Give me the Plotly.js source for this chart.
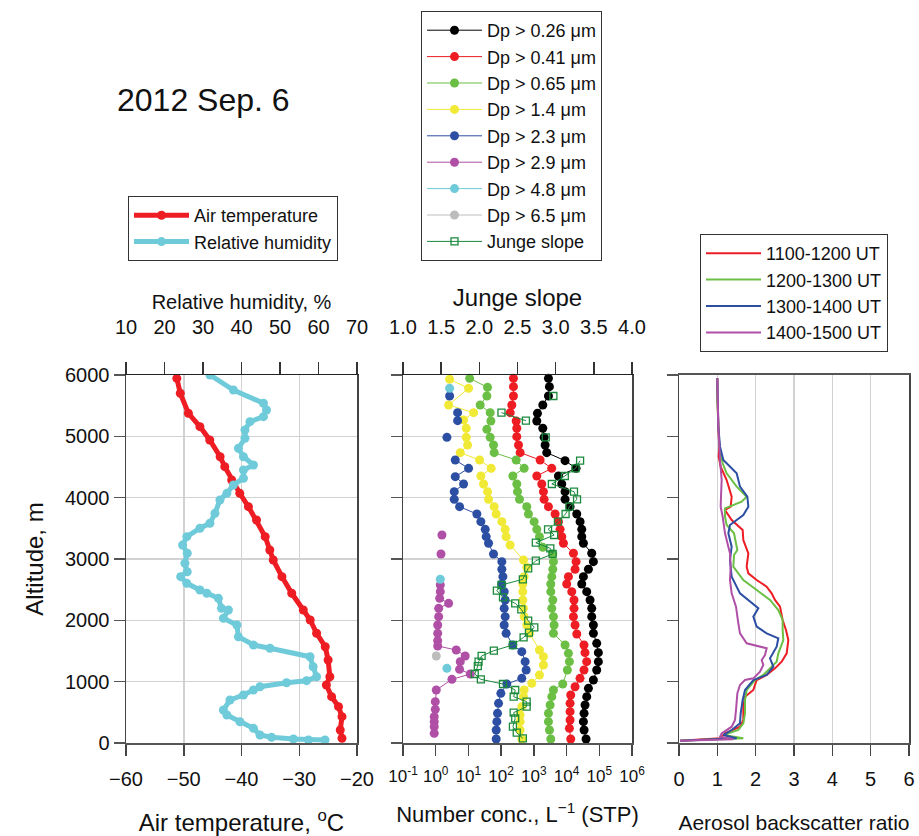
<!DOCTYPE html>
<html>
<head>
<meta charset="utf-8">
<script src="https://cdn.plot.ly/plotly-3.0.1.min.js"></script>
<style>html,body{margin:0;padding:0;background:#fff;}#chart{width:919px;height:836px;}</style>
</head>
<body>
<div id="chart"></div>
<script>
// ---------- Left panel: air temperature and relative humidity ----------
const altTemp = [5946,5702,5376,5158,4940,4668,4505,4288,4071,3853,3636,3364,3147,2984,2712,2441,2169,2005,1789,1570,1353,1081,946,755,592,429,212,77];
const airTemp = [-51.2,-50.6,-49.2,-47.2,-45.5,-43.7,-42.9,-41.7,-40.3,-38.8,-37.4,-35.9,-35.1,-34.5,-33.0,-31.3,-29.3,-28.1,-27.0,-25.5,-25.0,-24.7,-25.3,-24.4,-23.2,-22.6,-22.9,-22.6];
const altRH = [6000,5755,5539,5430,5321,5239,5103,4968,4805,4668,4533,4451,4316,4207,4071,3962,3745,3582,3501,3364,3228,3093,2930,2793,2712,2603,2495,2441,2359,2196,2169,2033,1924,1733,1598,1544,1407,1244,1081,1016,983,918,864,783,701,538,457,347,239,130,93,65,49,49];
const relHum = [31.8,37.9,45.7,46.5,45.7,42.2,40.9,40.9,39.2,40.5,43.1,40.5,40.5,37.9,36.2,34.4,33.1,31.8,29.2,25.8,24.7,25.9,25.3,25.9,24.2,25.8,29.2,31.0,34.0,34.8,36.6,35.3,38.8,39.2,43.1,47.4,57.8,58.6,59.5,56.9,51.7,44.8,43.1,40.5,37.0,35.3,36.2,39.6,43.1,44.8,47.8,53.5,57.4,61.7];

// ---------- Middle panel: number concentrations (L^-1, STP) ----------
const alt026 = [5946,5810,5658,5511,5375,5250,5131,4984,4859,4734,4603,4478,4353,4223,4098,3973,3853,3734,3609,3484,3364,3256,3093,2957,2832,2712,2592,2467,2332,2196,2060,1924,1788,1625,1473,1326,1190,1027,891,755,620,484,348,212,65];
const conc026 = [2790,2990,2790,1875,1290,1230,1875,2060,2210,2480,9000,19500,5640,7130,9000,9000,12800,20500,25900,29100,29100,32700,58700,66100,46500,32700,29100,41300,52200,58700,58700,66100,66100,83400,93700,93700,83400,66100,46500,41300,36700,34300,32700,34300,39400];
const alt041 = [5946,5810,5658,5511,5386,5250,5131,4995,4859,4734,4614,4478,4353,4223,4098,3973,3853,3734,3609,3484,3364,3256,3093,2957,2832,2712,2592,2467,2332,2196,2060,1924,1777,1598,1473,1326,1190,1054,918,783,647,511,375,239,65];
const conc041 = [238,238,238,212,189,288,301,301,339,381,1553,3520,1230,1747,1963,2058,2790,4460,5640,6340,7130,8010,16200,19500,18200,11400,10100,14400,16900,16900,16200,18200,20500,34100,36600,41200,34100,25800,18200,13400,12800,12800,12800,12200,13400];
const alt065 = [5946,5799,5658,5511,5386,5250,5114,4984,4859,4734,4614,4478,4353,4223,4098,3973,3853,3734,3609,3484,3364,3190,3082,2957,2832,2712,2592,2467,2332,2196,2060,1924,1788,1598,1462,1326,1190,962,864,755,620,484,348,212,65];
const conc065 = [10.9,38.4,36.6,22.9,46.3,48.5,36.6,46.3,58.5,61.3,288,505,228,301,316,364,608,684,1019,1230,1483,1875,3790,3970,3790,3530,3290,3290,3790,3530,3970,4160,3970,9010,11400,12200,10600,7640,3970,3530,3140,2790,2790,3000,3290];
const alt14 = [5930,5783,5511,5386,5266,5131,4984,4859,4734,4614,4478,4353,4223,4098,3973,3853,3734,3609,3484,3364,3228,2984,2864,2712,2592,2467,2332,2196,2060,1924,1788,1516,1408,1272,1109,973,864,755,592,457,348,212,65];
const conc14 = [2.66,10.1,2.48,14.4,7.11,8.57,8.57,9.42,5.62,21.9,49.6,24.0,29.0,38.4,41.2,61.3,70.5,105,133,142,188,481,608,504,459,459,459,481,504,608,735,1483,1963,1963,1483,865,504,481,428,381,381,381,428];
const alt23 = [5658,null,5386,5256,null,4984,null,4614,4478,4343,4223,4098,3973,3853,3734,3609,3484,3364,3256,3082,2957,2832,2712,2592,2467,2332,2196,2060,1924,1788,1598,1489,1326,1190,1054,962,810,647,484,348,212,65];
const conc23 = [2.66,null,4.67,4.67,null,2.20,null,3.96,10.1,3.96,7.11,3.69,3.69,5.37,18.1,24.0,32.6,34.9,41.2,58.5,105,105,113,105,124,133,124,133,124,142,228,428,541,581,428,149,98,83.2,77.5,74.0,70.6,70.6];
const alt29 = [3391,null,3082,null,2576,2467,2359,2277,2196,2060,1924,1788,1669,1582,1516,1419,1326,1201,1125,1038,864,674,549,429,348,266,158];
const conc29 = [1.55,null,1.45,null,1.38,1.38,1.32,2.48,1.23,1.23,1.15,1.15,1.15,1.15,4.24,7.98,5.62,5.36,11.4,3.13,1.04,0.97,0.97,0.90,0.90,0.90,0.90];
const alt48 = [5783,null,2669,null,1217];
const conc48 = [2.66,null,1.38,null,2.20];
const alt65 = [1419];
const conc65 = [1.04];
const altJunge = [5658,null,5386,5256,null,4984,null,4603,4478,4353,4223,4098,3973,3853,3734,3609,3484,3391,3266,3174,3082,2973,2848,2669,2576,2484,2375,2277,2179,1995,1886,1799,1723,1598,1505,1419,1326,1255,1125,1038,962,864,755,674,592,495,402,266,168,76];
const jungeSlope = [2.97,null,2.29,2.61,null,2.87,null,3.32,3.26,3.12,2.95,3.24,3.28,3.18,3.13,3.03,2.90,2.98,2.74,2.93,2.96,2.74,2.64,2.57,2.29,2.23,2.31,2.47,2.55,2.64,2.72,2.65,2.58,2.44,2.19,2.03,1.99,1.98,1.94,2.02,2.31,2.47,2.45,2.62,2.62,2.45,2.47,2.44,2.49,2.57];
const concTickVals = [0.1,1,10,100,1000,10000,100000,1000000];
const concTickText = ['10<sup>-1</sup>','10<sup>0</sup>','10<sup>1</sup>','10<sup>2</sup>','10<sup>3</sup>','10<sup>4</sup>','10<sup>5</sup>','10<sup>6</sup>'];

// ---------- Right panel: aerosol backscatter ratio ----------
const altBs1 = [5946,5701,5158,4832,4669,4506,4288,4125,4016,3853,3799,3636,3527,3473,3310,3147,3093,2875,2766,2658,2549,2440,2332,2223,2006,1842,1679,1462,1326,1217,1109,1027,864,755,592,375,266,158,76,38];
const bs1 = [1.00,1.00,1.026,1.052,1.035,1.087,1.243,1.313,1.374,1.348,1.200,1.374,1.548,1.661,1.678,1.783,1.809,1.765,1.809,2.026,2.287,2.417,2.504,2.635,2.704,2.791,2.852,2.809,2.678,2.504,2.287,2.026,1.939,1.722,1.678,1.678,1.591,1.200,1.070,0.026];
const altBs2 = [5946,5593,4832,4560,4397,4179,4016,3935,3826,3690,3554,3419,3147,3065,2875,2658,2495,2332,2168,2006,1842,1679,1462,1326,1245,1109,1027,864,701,484,321,212,130,76,38];
const bs2 = [1.00,1.00,1.052,1.139,1.243,1.504,1.765,1.635,1.200,1.200,1.243,1.435,1.522,1.435,1.417,1.678,2.026,2.374,2.591,2.704,2.704,2.722,2.591,2.548,2.417,2.200,1.983,1.765,1.722,1.722,1.678,1.548,1.157,1.678,0.026];
const altBs3 = [5946,5158,4832,4614,4397,4179,4016,3853,3717,3554,3419,3201,2984,2712,2440,2332,2250,2196,2060,1897,1788,1707,1571,1462,1380,1245,1109,1027,864,701,484,321,212,130,76,38];
const bs3 = [1.00,1.026,1.070,1.157,1.504,1.591,1.783,1.809,1.678,1.330,1.287,1.374,1.330,1.374,1.591,1.809,1.983,2.070,1.939,2.026,2.287,2.591,2.548,2.461,2.374,2.461,2.287,1.939,1.722,1.661,1.609,1.591,1.374,1.157,1.504,0.026];
const altBs4 = [5946,5158,4614,4288,4016,3853,3690,3419,3201,3093,2875,2658,2440,2223,1951,1788,1625,1544,1435,1353,1272,1163,1054,1027,946,810,538,375,266,158,103,60,38];
const bs4 = [1.00,1.026,1.070,1.113,1.096,1.087,1.139,1.200,1.287,1.330,1.348,1.330,1.374,1.487,1.548,1.591,1.765,2.287,2.243,2.157,2.200,2.113,1.939,1.722,1.591,1.522,1.487,1.461,1.374,1.113,1.070,1.417,0.026];

// ---------- Colours ----------
const cRed = '#ee1d23', cCyan = '#6fcbd9', cBlack = '#000000', cGreen = '#6bbf45',
      cYellow = '#f0e936', cBlue = '#2c4fa3', cMag = '#b04fa6', cGray = '#bdbdbd', cJunge = '#1b8a3c';

const FONT = 'Liberation Sans, Arial, Helvetica, sans-serif';

function dots(name, x, y, color, xa, ya, legend) {
  return {type:'scatter', mode:'lines+markers', name:name, x:x, y:y, xaxis:xa, yaxis:ya,
    legend:legend, line:{color:color, width:1}, marker:{color:color, size:9}, connectgaps:false, cliponaxis:false};
}

const traces = [
  {type:'scatter', mode:'lines+markers', name:'Air temperature', x:airTemp, y:altTemp, xaxis:'x', yaxis:'y', legend:'legend',
    line:{color:cRed, width:5}, marker:{color:cRed, size:9}},
  {type:'scatter', mode:'lines+markers', name:'Relative humidity', x:relHum, y:altRH, xaxis:'x2', yaxis:'y', legend:'legend',
    line:{color:cCyan, width:5}, marker:{color:cCyan, size:9}},

  dots('Dp > 0.26 μm', conc026, alt026, cBlack, 'x3', 'y2', 'legend2'),
  dots('Dp > 0.41 μm', conc041, alt041, cRed, 'x3', 'y2', 'legend2'),
  dots('Dp > 0.65 μm', conc065, alt065, cGreen, 'x3', 'y2', 'legend2'),
  dots('Dp > 1.4 μm', conc14, alt14, cYellow, 'x3', 'y2', 'legend2'),
  dots('Dp > 2.3 μm', conc23, alt23, cBlue, 'x3', 'y2', 'legend2'),
  dots('Dp > 2.9 μm', conc29, alt29, cMag, 'x3', 'y2', 'legend2'),
  dots('Dp > 4.8 μm', conc48, alt48, cCyan, 'x3', 'y2', 'legend2'),
  dots('Dp > 6.5 μm', conc65, alt65, cGray, 'x3', 'y2', 'legend2'),
  {type:'scatter', mode:'lines+markers', name:'Junge slope', x:jungeSlope, y:altJunge, xaxis:'x4', yaxis:'y2', legend:'legend2',
    line:{color:cJunge, width:1}, marker:{symbol:'square-open', color:cJunge, size:7, line:{width:1.3, color:cJunge}}, connectgaps:false},

  {type:'scatter', mode:'lines', name:'1100-1200 UT', x:bs1, y:altBs1, xaxis:'x5', yaxis:'y3', legend:'legend3', line:{color:cRed, width:2}},
  {type:'scatter', mode:'lines', name:'1200-1300 UT', x:bs2, y:altBs2, xaxis:'x5', yaxis:'y3', legend:'legend3', line:{color:cGreen, width:2}},
  {type:'scatter', mode:'lines', name:'1300-1400 UT', x:bs3, y:altBs3, xaxis:'x5', yaxis:'y3', legend:'legend3', line:{color:cBlue, width:2}},
  {type:'scatter', mode:'lines', name:'1400-1500 UT', x:bs4, y:altBs4, xaxis:'x5', yaxis:'y3', legend:'legend3', line:{color:cMag, width:2}}
];

const W = 919, H = 836;
const yDom = [(H-743)/H, (H-375)/H];
const dLeft = [126/W, 357/W], dMid = [403/W, 632/W], dRight = [679/W, 909/W];
const tickFont = {family:FONT, size:20, color:'#111'};

const baseX = {showgrid:false, zeroline:false, ticks:'outside', ticklen:11, tickwidth:1.5, tickcolor:'#444', tickangle:0,
  showline:true, linecolor:'#555', linewidth:2, tickfont:tickFont, ticklabelstandoff:6};
const baseTop = {side:'top', showgrid:false, zeroline:false, ticks:'outside', ticklen:12, tickwidth:1.5, tickcolor:'#333', tickangle:0,
  showline:true, linecolor:'#222', linewidth:1.2, tickfont:tickFont, ticklabelstandoff:20};
const baseY = {domain:yDom, range:[0,6000], dtick:1000, zeroline:false, ticks:'outside', ticklen:11, tickwidth:1.5,
  tickcolor:'#555', showline:true, mirror:true, linecolor:'#444', linewidth:1.5, tickfont:tickFont};

const layout = {
  width:W, height:H, margin:{l:0, r:0, t:0, b:0},
  paper_bgcolor:'#fff', plot_bgcolor:'rgba(0,0,0,0)',
  font:{family:FONT, color:'#111'},
  title:{text:'2012 Sep. 6', x:117/W, xanchor:'left', y:1-100/H, yanchor:'middle', yref:'container', xref:'container',
    font:{family:FONT, size:32, color:'#111'}},
  showlegend:true,
  xaxis: Object.assign({}, baseX, {domain:dLeft, anchor:'y', range:[-60,-20], dtick:10,
    showgrid:true, gridcolor:'#d2d2d2', gridwidth:1.5,
    title:{text:'Air temperature, <sup>o</sup>C', font:{family:FONT, size:24, color:'#111'}, standoff:26}}),
  xaxis2: Object.assign({}, baseTop, {overlaying:'x', anchor:'y', range:[10,70], dtick:10,
    title:{text:'Relative humidity, %', font:{family:FONT, size:20, color:'#111'}, standoff:0}}),
  yaxis: Object.assign({}, baseY, {anchor:'x', showgrid:true, gridcolor:'#d2d2d2', gridwidth:1.5,
    title:{text:'Altitude, m', font:{family:FONT, size:24, color:'#111'}, standoff:14}}),

  xaxis3: Object.assign({}, baseX, {domain:dMid, anchor:'y2', type:'log', range:[-1,6],
    tickmode:'array', tickvals:concTickVals, ticktext:concTickText, tickfont:{family:FONT, size:17, color:'#111'},
    title:{text:'Number conc., L<sup>−1</sup> (STP)', font:{family:FONT, size:22, color:'#111'}, standoff:21}}),
  xaxis4: Object.assign({}, baseTop, {overlaying:'x3', anchor:'y2', range:[1,4], dtick:0.5, tickformat:'.1f',
    title:{text:'Junge slope', font:{family:FONT, size:24, color:'#111'}, standoff:2}}),
  yaxis2: Object.assign({}, baseY, {anchor:'x3', showticklabels:false, showgrid:true, gridcolor:'#d2d2d2', gridwidth:1.5}),

  xaxis5: Object.assign({}, baseX, {domain:dRight, anchor:'y3', range:[0,6], dtick:1, mirror:true,
    showgrid:true, gridcolor:'#d2d2d2', gridwidth:1.5,
    title:{text:'Aerosol backscatter ratio', font:{family:FONT, size:21, color:'#111'}, standoff:26}}),
  yaxis3: Object.assign({}, baseY, {anchor:'x5', showticklabels:false, showgrid:false}),

  legend:{x:128/W, y:1-196/H, xanchor:'left', yanchor:'top', bordercolor:'#333', borderwidth:1,
    bgcolor:'#fff', font:{family:FONT, size:18, color:'#111'}, itemwidth:55},
  legend2:{x:421/W, y:1-11/H, xanchor:'left', yanchor:'top', bordercolor:'#333', borderwidth:1,
    bgcolor:'#fff', font:{family:FONT, size:18, color:'#111'}, itemwidth:55},
  legend3:{x:700/W, y:1-234/H, xanchor:'left', yanchor:'top', bordercolor:'#333', borderwidth:1,
    bgcolor:'#fff', font:{family:FONT, size:18, color:'#111'}, itemwidth:55}
};

Plotly.newPlot('chart', traces, layout, {staticPlot:true, displayModeBar:false});
</script>
</body>
</html>
